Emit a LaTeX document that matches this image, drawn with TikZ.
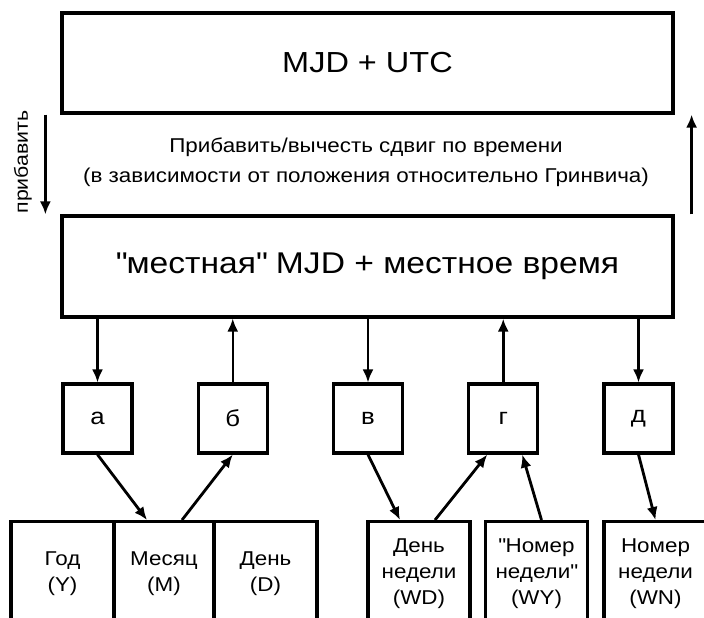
\documentclass[tikz,border=0pt]{standalone}
\usepackage{fontspec}
\setmainfont{Liberation Sans}[FakeStretch=1.12]
\usetikzlibrary{arrows.meta,positioning}

\begin{document}
\begin{tikzpicture}[x=1pt, y=-1pt, >={Latex[length=13pt,width=11pt]}]
    \tikzset{
      bigbox/.style={draw, line width=3.2pt, minimum width=611pt, minimum height=100pt, inner sep=0pt},
      letterbox/.style={draw, line width=3.2pt, minimum width=69pt, minimum height=69pt, inner sep=0pt, font=\fontsize{23}{27}\selectfont},
      fieldbox/.style={draw, line width=3.2pt, anchor=north, minimum width=102pt, minimum height=104pt, inner sep=0pt, align=center, font=\fontsize{20}{26}\selectfont},
      link/.style={->, line width=2.8pt}
    }
    \useasboundingbox (0,0) rectangle (704,618);
    \clip (0,0) rectangle (704,618);
    % Time boxes
    \node[bigbox, font=\fontsize{29}{34}\selectfont] (utc) at (367.5,63) {MJD + UTC};
    \node[bigbox, minimum height=101pt, font=\fontsize{30}{34}\selectfont] (local) at (367.5,266.5) {\textquotedbl местная\textquotedbl{} MJD + местное время};
    % Offset
    \node[align=center, font=\fontsize{20}{30}\selectfont] (shift) at (366,162) {Прибавить/вычесть сдвиг по времени\\(в зависимости от положения относительно Гринвича)};
    \node[rotate=90, font=\fontsize{19}{22}\selectfont] (add) at (23,162) {прибавить};
    \draw[link, line width=2.4pt] ([xshift=-15pt]utc.south west) -- ([xshift=-15pt]local.north west);
    \draw[link, line width=2.4pt] ([xshift=17pt]local.north east) -- ([xshift=17pt]utc.south east);
    % Letter boxes
    \foreach \lbl/\n [count=\i from 0] in {а/a, б/b, в/v, г/g, д/d}
      \node[letterbox] (\n) at (97.5+135.25*\i, 418.5) {\lbl};
    \draw[link, line width=2.2pt] (local.south -| a) -- (a.north);
    \draw[link, line width=2.2pt] (b.north) -- (local.south -| b);
    \draw[link, line width=2.2pt] (local.south -| v) -- (v.north);
    \draw[link, line width=3pt] (g.north) -- (local.south -| g);
    \draw[link, line width=2.2pt] (local.south -| d) -- (d.north);
    % Fields
    \node[fieldbox, minimum width=103pt] (year) at (62.5,520) {Год\\(Y)};
    \node[fieldbox, minimum width=100pt] (month) at (164,520) {Месяц\\(M)};
    \node[fieldbox, minimum width=103pt] (day) at (265.5,520) {День\\(D)};
    \node[fieldbox] (wday) at (419,520) {День\\недели\\(WD)};
    \node[fieldbox] (wyear) at (536.5,520) {\textquotedbl Номер\\недели\textquotedbl\\(WY)};
    \node[fieldbox, minimum width=103pt] (wnum) at (655.5,520) {Номер\\недели\\(WN)};
    \draw[link] (a.south) -- ([xshift=-17pt]month.north);
    \draw[link] ([xshift=18pt]month.north) -- (b.south);
    \draw[link] (v.south) -- ([xshift=-19pt]wday.north);
    \draw[link] ([xshift=16pt]wday.north) -- ([xshift=-16pt]g.south);
    \draw[link] ([xshift=5pt]wyear.north) -- ([xshift=19pt]g.south);
    \draw[link] (d.south) -- (wnum.north);
\end{tikzpicture}
\end{document}
